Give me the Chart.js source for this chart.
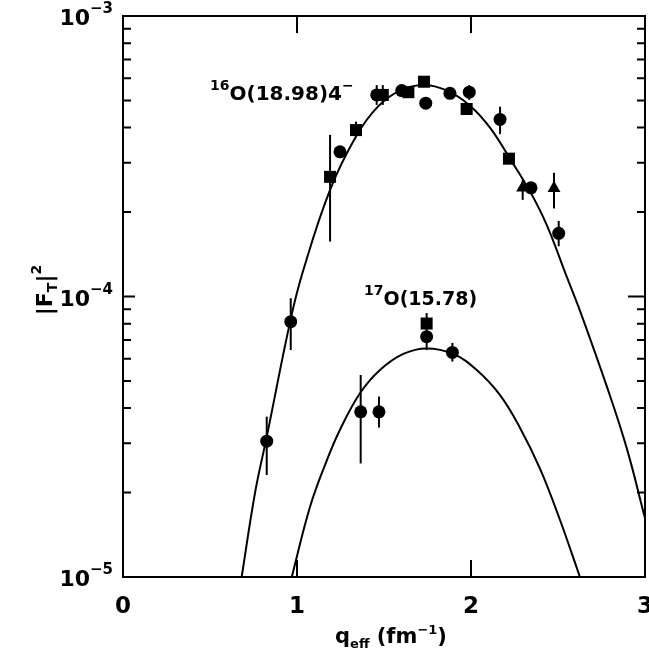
<!DOCTYPE html>
<html>
<head>
<meta charset="utf-8">
<script src="https://cdn.jsdelivr.net/npm/chart.js@4.4.1/dist/chart.umd.min.js"></script>
<style>
  html, body { margin: 0; padding: 0; background: #fff; }
</style>
</head>
<body>
<canvas id="myChart" width="649" height="663"></canvas>
<script>
// fitted curves
const curve16Q = [0.682, 0.759, 0.826, 0.964, 1.036, 1.190, 1.339, 1.466, 1.592, 1.726, 1.860, 1.994, 2.109, 2.224, 2.339, 2.435, 2.554, 2.626, 2.780, 2.895, 3.0];
const curve16F = [1.0e-5, 2.0e-5, 3.16e-5, 8.32e-5, 1.24e-4, 2.40e-4, 3.72e-4, 4.76e-4, 5.42e-4, 5.68e-4, 5.43e-4, 4.79e-4, 4.0e-4, 3.10e-4, 2.37e-4, 1.80e-4, 1.16e-4, 8.91e-5, 4.79e-5, 2.88e-5, 1.62e-5];
const curve17Q = [0.970, 1.075, 1.171, 1.247, 1.362, 1.477, 1.611, 1.745, 1.898, 2.033, 2.167, 2.282, 2.397, 2.511, 2.626];
const curve17F = [1.0e-5, 1.78e-5, 2.60e-5, 3.35e-5, 4.52e-5, 5.47e-5, 6.24e-5, 6.53e-5, 6.24e-5, 5.47e-5, 4.45e-5, 3.40e-5, 2.43e-5, 1.60e-5, 1.0e-5];

// measured points
const circ16Q = [0.826, 0.964, 1.247, 1.458, 1.602, 1.740, 1.879, 1.990, 2.167, 2.345, 2.504];
const circ16F = [3.05e-5, 8.13e-5, 3.28e-4, 5.23e-4, 5.42e-4, 4.89e-4, 5.30e-4, 5.35e-4, 4.28e-4, 2.44e-4, 1.68e-4];
const sq16Q = [1.190, 1.339, 1.493, 1.640, 1.730, 1.975, 2.218];
const sq16F = [2.67e-4, 3.92e-4, 5.23e-4, 5.35e-4, 5.83e-4, 4.66e-4, 3.10e-4];
const tri16Q = [2.297, 2.477];
const tri16F = [2.44e-4, 2.43e-4];
const circ17Q = [1.366, 1.471, 1.745, 1.893];
const circ17F = [3.88e-5, 3.88e-5, 7.19e-5, 6.32e-5];
const sq17Q = [1.745];
const sq17F = [8.01e-5];

// error bars
const errQ = [0.826, 0.964, 1.190, 1.339, 1.458, 1.493, 1.990, 2.167, 2.297, 2.477, 2.504, 1.366, 1.471, 1.745, 1.893];
const errLo = [2.31e-5, 6.44e-5, 1.57e-4, 3.92e-4, 4.82e-4, 4.82e-4, 5.02e-4, 3.79e-4, 2.21e-4, 2.06e-4, 1.51e-4, 2.54e-5, 3.41e-5, 6.44e-5, 5.86e-5];
const errHi = [3.73e-5, 9.86e-5, 3.77e-4, 4.2e-4, 5.67e-4, 5.67e-4, 5.67e-4, 4.75e-4, 2.6e-4, 2.76e-4, 1.86e-4, 5.25e-5, 4.40e-5, 8.73e-5, 6.83e-5];

// axis ticks
const xTicks = [0, 1, 2, 3];
const yMajor = [1e-5, 1e-4, 1e-3];
const yExp = ['\u22125', '\u22124', '\u22123'];

const FONT = '"DejaVu Sans", "Liberation Sans", sans-serif';

function pts(qs, fs) {
  return qs.map(function (q, i) { return { x: q, y: fs[i] }; });
}

// draws a run of text pieces [text, size, dy]
function richText(ctx, parts, x, y, align) {
  var w = 0;
  parts.forEach(function (p) {
    ctx.font = 'bold ' + p[1] + 'px ' + FONT;
    w += ctx.measureText(p[0]).width;
  });
  var cx = x;
  if (align === 'right') cx = x - w;
  if (align === 'center') cx = x - w / 2;
  ctx.textAlign = 'left';
  ctx.textBaseline = 'alphabetic';
  parts.forEach(function (p) {
    ctx.font = 'bold ' + p[1] + 'px ' + FONT;
    ctx.fillText(p[0], cx, y + p[2]);
    cx += ctx.measureText(p[0]).width;
  });
}

const paperPlugin = {
  id: 'paper',
  beforeDatasetsDraw(chart) {
    const ctx = chart.ctx, xs = chart.scales.x, ys = chart.scales.y;
    ctx.save();
    ctx.strokeStyle = '#000';
    ctx.lineWidth = 2;
    errQ.forEach(function (q, i) {
      var px = xs.getPixelForValue(q);
      ctx.beginPath();
      ctx.moveTo(px, ys.getPixelForValue(errLo[i]));
      ctx.lineTo(px, ys.getPixelForValue(errHi[i]));
      ctx.stroke();
    });
    ctx.restore();
  },
  afterDraw(chart) {
    const ctx = chart.ctx, a = chart.chartArea, xs = chart.scales.x, ys = chart.scales.y;
    ctx.save();
    ctx.strokeStyle = '#000';
    ctx.fillStyle = '#000';
    ctx.lineWidth = 2;
    ctx.strokeRect(a.left, a.top, a.right - a.left, a.bottom - a.top);

    // x ticks, inward at top and bottom
    [1, 2].forEach(function (v) {
      var px = xs.getPixelForValue(v);
      ctx.beginPath();
      ctx.moveTo(px, a.bottom); ctx.lineTo(px, a.bottom - 17);
      ctx.moveTo(px, a.top); ctx.lineTo(px, a.top + 17);
      ctx.stroke();
    });
    // y ticks, log minor ones
    [1e-5, 1e-4].forEach(function (dec) {
      for (var k = 2; k <= 9; k++) {
        var py = ys.getPixelForValue(k * dec);
        ctx.beginPath();
        ctx.moveTo(a.left, py); ctx.lineTo(a.left + 8, py);
        ctx.moveTo(a.right, py); ctx.lineTo(a.right - 8, py);
        ctx.stroke();
      }
    });
    var p4 = ys.getPixelForValue(1e-4);
    ctx.beginPath();
    ctx.moveTo(a.left, p4); ctx.lineTo(a.left + 12, p4);
    ctx.moveTo(a.right, p4); ctx.lineTo(a.right - 17, p4);
    ctx.stroke();

    // tick labels
    yMajor.forEach(function (v, i) {
      var py = ys.getPixelForValue(v);
      richText(ctx, [['10', 22, 9], [yExp[i], 15, -3]], 113, py, 'right');
    });
    xTicks.forEach(function (v) {
      richText(ctx, [[String(v), 23, 0]], xs.getPixelForValue(v), 613, 'center');
    });

    // axis titles
    richText(ctx, [['q', 21, 0], ['eff', 13, 5], [' (fm', 21, 0], ['\u22121', 13, -9], [')', 21, 0]], 391, 643, 'center');
    ctx.save();
    ctx.translate(52, 290);
    ctx.rotate(-Math.PI / 2);
    richText(ctx, [['|F', 22, 0], ['T', 14, 5], ['|', 22, 0], ['2', 14, -11]], 0, 0, 'center');
    ctx.restore();

    // curve labels
    richText(ctx, [['16', 14, -10], ['O(18.98)4', 20, 0], ['\u2212', 14, -10]], 210, 100, 'left');
    richText(ctx, [['17', 14, -10], ['O(15.78)', 19, 0]], 364, 305, 'left');
    ctx.restore();
  }
};

function chartOnLoad() {
  const ctx = document.getElementById('myChart');
  const lineStyle = { type: 'line', borderColor: '#000', borderWidth: 2, pointRadius: 0, fill: false, tension: 0.4 };
  const markStyle = { type: 'scatter', backgroundColor: '#000', borderColor: '#000', borderWidth: 0 };

  new Chart(ctx, {
    data: {
      datasets: [
        Object.assign({ label: '16O fit', data: pts(curve16Q, curve16F) }, lineStyle),
        Object.assign({ label: '17O fit', data: pts(curve17Q, curve17F) }, lineStyle),
        Object.assign({ label: '16O circles', data: pts(circ16Q, circ16F), pointStyle: 'circle', pointRadius: 6.5 }, markStyle),
        Object.assign({ label: '16O squares', data: pts(sq16Q, sq16F), pointStyle: 'rect', pointRadius: 8.5 }, markStyle),
        Object.assign({ label: '16O triangles', data: pts(tri16Q, tri16F), pointStyle: 'triangle', pointRadius: 7.5 }, markStyle),
        Object.assign({ label: '17O circles', data: pts(circ17Q, circ17F), pointStyle: 'circle', pointRadius: 6.5 }, markStyle),
        Object.assign({ label: '17O squares', data: pts(sq17Q, sq17F), pointStyle: 'rect', pointRadius: 8.5 }, markStyle)
      ]
    },
    options: {
      responsive: false,
      animation: false,
      layout: { autoPadding: false, padding: { left: 123, right: 4, top: 16, bottom: 86 } },
      plugins: { legend: { display: false }, tooltip: { enabled: false } },
      scales: {
        x: { type: 'linear', min: 0, max: 3, display: false },
        y: { type: 'logarithmic', min: 1e-5, max: 1e-3, display: false }
      }
    },
    plugins: [paperPlugin]
  });
}

window.onload = chartOnLoad;
</script>
</body>
</html>
